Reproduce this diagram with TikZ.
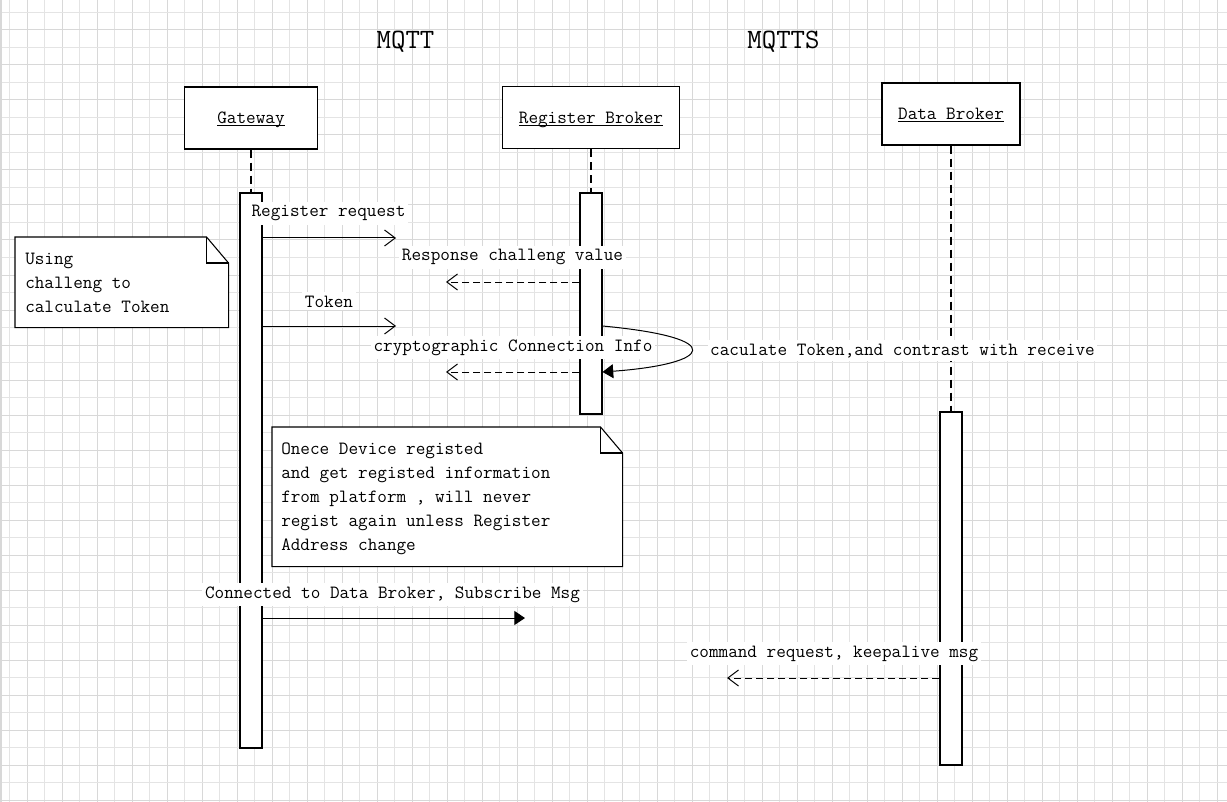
\documentclass[tikz,border=0pt]{standalone}
\usepackage{fontspec}
\usetikzlibrary{arrows.meta}
\definecolor{gridA}{HTML}{D8D8D8}
\definecolor{gridB}{HTML}{E4E4E4}
\newcommand\ulbox[1]{\underline{\smash{#1}}}
\begin{document}
\begin{tikzpicture}[x=0.75pt,y=-0.75pt,
  font=\fontsize{14}{18}\selectfont\ttfamily,
  box/.style={draw, line width=0.8pt, fill=white, minimum height=46.5pt, inner sep=0pt,
    text height=8.5pt, text depth=0pt},
  act/.style={draw, line width=0.8pt, fill=white, minimum width=16.5pt, inner sep=0pt},
  life/.style={line width=0.8pt, dash pattern=on 6pt off 3.75pt},
  msg/.style={line width=0.75pt, -{Straight Barb[length=8pt,width=12pt]}},
  reply/.style={msg, dash pattern=on 5.25pt off 3pt},
  sync/.style={line width=0.75pt, -{Triangle[length=8pt,width=10.5pt]}},
  lbl/.style={fill=white, inner xsep=2pt, inner ysep=2.5pt, anchor=base},
  notebox/.style={inner sep=0pt, anchor=north west},
  noteline/.style={draw, line width=0.8pt, fill=white},
  notetxt/.style={align=left, anchor=base west, inner sep=0pt},
  title/.style={font=\fontsize{21}{24}\selectfont\ttfamily, anchor=base}]
\useasboundingbox (0,0) rectangle (1227,802);
\fill[white] (0,0) rectangle (1227,802);
% grid
\foreach \x in {9.5,44.5,...,1227} \draw[gridB, line width=0.75pt] (\x,0) -- (\x,802);
\foreach \x in {27,62,...,1227} \draw[gridA, line width=0.75pt] (\x,0) -- (\x,802);
\foreach \y in {12.5,47.5,...,802} \draw[gridB, line width=0.75pt] (0,\y) -- (1227,\y);
\foreach \y in {30,65,...,802} \draw[gridA, line width=0.75pt] (0,\y) -- (1227,\y);
\fill[gridA] (0,0) rectangle (2,802);
% titles
\node[title] (t1) at (405.5,49) {MQTT};
\node[title] (t2) at (783.5,49) {MQTTS};
% participants
\node[box, minimum width=99.75pt] (gw) at (251,118) {\ulbox{Gateway}};
\node[box, minimum width=132.75pt] (rb) at (591,117.5) {\ulbox{Register Broker}};
\node[box, minimum width=103.5pt] (db) at (951,114) {\ulbox{Data Broker}};
% activations
\node[act, minimum height=416.25pt] (gwa) at (251,470.5) {};
\node[act, minimum height=165.75pt] (rba) at (591,303.5) {};
\node[act, minimum height=264.75pt] (dba) at (951,588.5) {};
% lifelines
\draw[life] (gw.south) -- (gwa.north);
\draw[life] (rb.south) -- (rba.north);
\draw[life] (db.south) -- (dba.north);
% notes
\node[notebox, minimum width=159.75pt, minimum height=67.5pt] (n1) at (15,237) {};
\draw[noteline] (n1.south west) -- (n1.north west) -- ([xshift=-16.5pt]n1.north east)
  -- ([yshift=-19.5pt]n1.north east) -- (n1.south east) -- cycle;
\draw[line width=0.8pt] ([xshift=-16.5pt]n1.north east) |- ([yshift=-19.5pt]n1.north east);
\node[notetxt] (n1t) at (25,312) {Using\\challeng to\\calculate Token};
\node[notebox, minimum width=262.5pt, minimum height=104.25pt] (n2) at (272,427) {};
\draw[noteline] (n2.south west) -- (n2.north west) -- ([xshift=-16.5pt]n2.north east)
  -- ([yshift=-19.5pt]n2.north east) -- (n2.south east) -- cycle;
\draw[line width=0.8pt] ([xshift=-16.5pt]n2.north east) |- ([yshift=-19.5pt]n2.north east);
\node[notetxt] (n2t) at (281,550) {Onece Device registed\\and get registed information\\from platform , will never\\regist again unless Register\\Address change};
% messages
\coordinate (m1e) at (396,238);
\draw[msg] (gwa.east |- m1e) -- (m1e);
\coordinate (m2e) at (446,282);
\draw[reply] (rba.west |- m2e) -- (m2e);
\coordinate (m3e) at (396,326);
\draw[msg] (gwa.east |- m3e) -- (m3e);
\coordinate (m4e) at (446,372);
\draw[reply] (rba.west |- m4e) -- (m4e);
\coordinate (s1) at (rba.east |- m3e);
\coordinate (s2) at (rba.east |- m4e);
\draw[sync] (s1) .. controls (730,338) and (712,364) .. (s2);
\coordinate (m5e) at (525,618);
\draw[sync] (gwa.east |- m5e) -- (m5e);
\coordinate (m6e) at (727,678);
\draw[reply] (dba.west |- m6e) -- (m6e);
% labels
\node[lbl] (l1) at (328.5,217) {Register request};
\node[lbl] (l2) at (512.5,261) {Response challeng value};
\node[lbl] (l3) at (329,307) {Token};
\node[lbl] (l4) at (513,351) {cryptographic Connection Info};
\node[lbl] (l5) at (902.5,355) {caculate Token,and contrast with receive};
\node[lbl] (l6) at (392.5,598) {Connected to Data Broker, Subscribe Msg};
\node[lbl] (l7) at (834,657) {command request, keepalive msg};
\end{tikzpicture}
\end{document}
